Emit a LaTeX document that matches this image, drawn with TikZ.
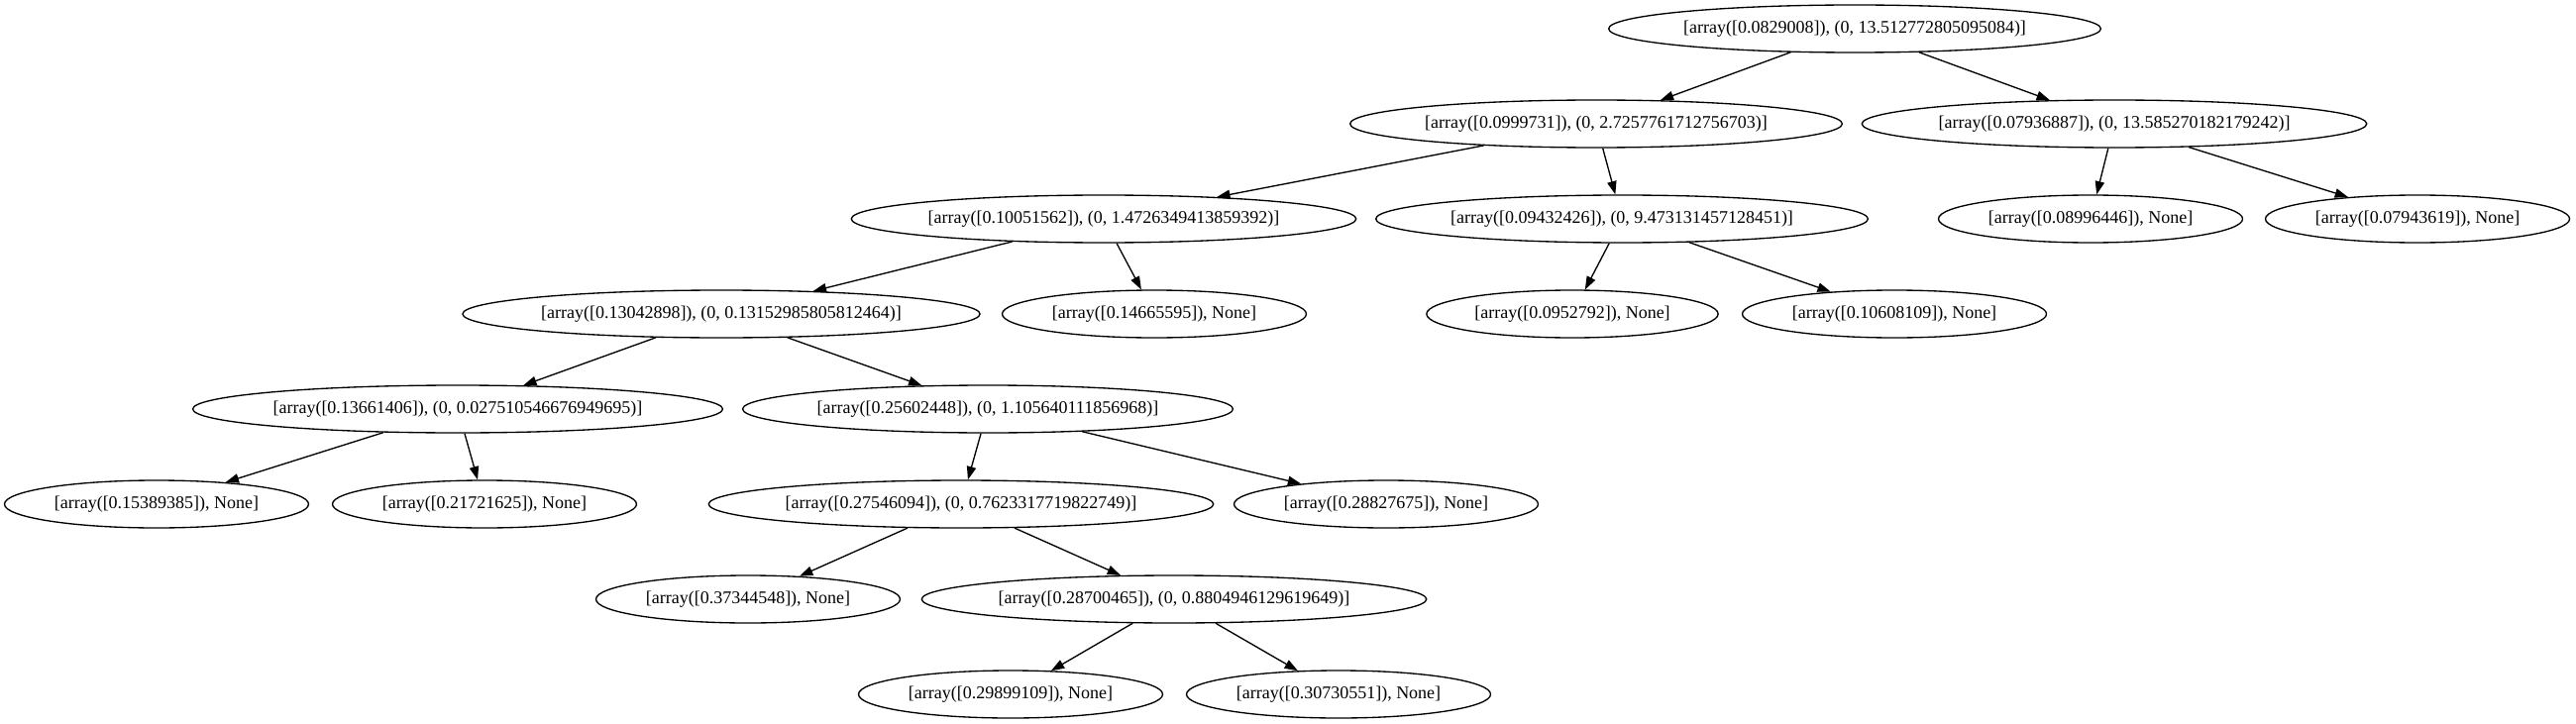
\documentclass[tikz,border=0pt]{standalone}
\usepackage{fontspec}
\setmainfont{Liberation Serif}
\usetikzlibrary{shapes, arrows.meta}

\tikzset{
    split/.style={draw, ellipse, line width=1pt, inner xsep=2pt, inner ysep=0pt,
        minimum height=36pt, font=\fontsize{13.5pt}{16pt}\selectfont},
    leaf/.style={split, inner xsep=4pt},
    branch/.style={-{Triangle[length=10pt,width=7pt]}, line width=1pt},
}

\begin{document}
\begin{tikzpicture}[x=0.75pt, y=-0.75pt]
        \useasboundingbox (0,0) rectangle (2600,731);
        \node[split] (t) at (1872,29) {[array([0.0829008]), (0, 13.512772805095084)]};
        \node[split] (tl) at (1611,125) {[array([0.0999731]), (0, 2.7257761712756703)]};
        \node[split] (tr) at (2134,125) {[array([0.07936887]), (0, 13.585270182179242)]};
        \node[split] (tll) at (1114,221) {[array([0.10051562]), (0, 1.4726349413859392)]};
        \node[split] (tlr) at (1637,221) {[array([0.09432426]), (0, 9.473131457128451)]};
        \node[leaf] (trl) at (2110,221) {[array([0.08996446]), None]};
        \node[leaf] (trr) at (2440,221) {[array([0.07943619]), None]};
        \node[split] (tlll) at (728,317) {[array([0.13042898]), (0, 0.13152985805812464)]};
        \node[leaf] (tllr) at (1165,317) {[array([0.14665595]), None]};
        \node[leaf] (tlrl) at (1587,317) {[array([0.0952792]), None]};
        \node[leaf] (tlrr) at (1912,317) {[array([0.10608109]), None]};
        \node[split] (tllll) at (462,413) {[array([0.13661406]), (0, 0.027510546676949695)]};
        \node[split] (tlllr) at (997,413) {[array([0.25602448]), (0, 1.105640111856968)]};
        \node[leaf] (tlllll) at (158,509) {[array([0.15389385]), None]};
        \node[leaf] (tllllr) at (489,509) {[array([0.21721625]), None]};
        \node[split] (tlllrl) at (970,509) {[array([0.27546094]), (0, 0.7623317719822749)]};
        \node[leaf] (tlllrr) at (1399,509) {[array([0.28827675]), None]};
        \node[leaf] (tlllrll) at (755,605) {[array([0.37344548]), None]};
        \node[split] (tlllrlr) at (1185,605) {[array([0.28700465]), (0, 0.8804946129619649)]};
        \node[leaf] (tlllrlrl) at (1020,701) {[array([0.29899109]), None]};
        \node[leaf] (tlllrlrr) at (1351,701) {[array([0.30730551]), None]};

        \draw[branch] (t) -- (tl);
        \draw[branch] (t) -- (tr);
        \draw[branch] (tl) -- (tll);
        \draw[branch] (tl) -- (tlr);
        \draw[branch] (tr) -- (trl);
        \draw[branch] (tr) -- (trr);
        \draw[branch] (tll) -- (tlll);
        \draw[branch] (tll) -- (tllr);
        \draw[branch] (tlr) -- (tlrl);
        \draw[branch] (tlr) -- (tlrr);
        \draw[branch] (tlll) -- (tllll);
        \draw[branch] (tlll) -- (tlllr);
        \draw[branch] (tllll) -- (tlllll);
        \draw[branch] (tllll) -- (tllllr);
        \draw[branch] (tlllr) -- (tlllrl);
        \draw[branch] (tlllr) -- (tlllrr);
        \draw[branch] (tlllrl) -- (tlllrll);
        \draw[branch] (tlllrl) -- (tlllrlr);
        \draw[branch] (tlllrlr) -- (tlllrlrl);
        \draw[branch] (tlllrlr) -- (tlllrlrr);
\end{tikzpicture}
\end{document}
